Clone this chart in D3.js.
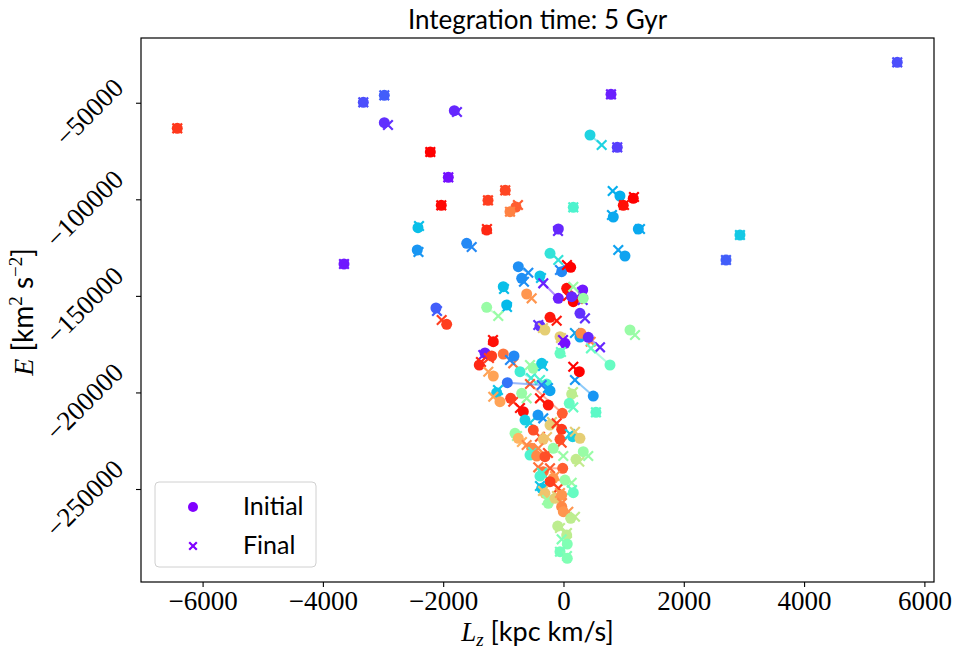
<!DOCTYPE html>
<html>
<head>
<meta charset="utf-8">
<script src="https://cdn.jsdelivr.net/npm/d3@7"></script>
<style>
  body { margin: 0; background: #fff; }
  .tick line { stroke: #000; }
</style>
</head>
<body>
<div id="chart"></div>
<script>
// Lz–E scatter: initial (circle) and final (cross) position of each orbit,
// linked by a faint line, coloured along the rainbow colour map

// colour-map position of each orbit (0 = purple ... 1 = red)
const colorValue = [
  0.93, 0.10, 0.12, 0.06, 0.05, 1.00, 0.02, 0.91, 0.92, 0.99,
  0.88, 0.83, 0.27, 0.95, 0.05, 0.04, 0.08, 0.31, 0.24, 1.00,
  0.98, 0.40, 0.23, 0.23, 0.10, 0.29, 0.12, 0.03, 0.20, 0.18,
  0.12, 0.92, 0.35, 0.18, 1.00, 0.22, 0.19, 0.19, 0.28, 0.04,
  0.27, 0.26, 0.55, 0.80, 0.98, 1.00, 0.05, 0.03, 0.55, 0.06,
  0.97, 0.06, 0.70, 0.70, 0.02, 0.45, 0.22, 0.82, 0.05, 0.45,
  0.55, 0.98, 0.04, 0.92, 0.95, 0.85, 0.78, 0.18, 0.38, 0.55,
  0.28, 0.40, 0.88, 0.15, 0.22, 0.97, 0.20, 1.00, 0.62, 0.45,
  0.43, 0.28, 0.78, 0.92, 0.55, 0.98, 0.30, 0.20, 0.70, 0.93,
  0.90, 0.55, 0.75, 0.72, 0.90, 0.30, 0.70, 0.82, 0.40, 0.82,
  0.90, 0.55, 0.55, 0.63, 0.85, 0.88, 0.40, 0.80, 0.92, 0.55,
  0.28, 0.72, 0.55, 0.70, 0.45, 0.80, 0.82, 0.80, 0.62, 0.62,
  0.62, 0.50, 0.48, 0.50
];

// initial angular momentum Lz [kpc km/s]
const initialLz = [
  -6421, -3328, -2979, -2979, -1815, -2214, -1915, -968, -1255, -2032,
  -790, -889, -2419, -1277, -86, 790, 894, 441, 939, 1160,
  994, 163, 828, 1244, 5549, 2934, 2702, -3649, -2431, -1609,
  -2120, -1942, -224, -30, 120, 1022, -751, -695, -391, -86,
  -1001, -944, -1277, -612, 53, 163, 136, 319, 329, 274,
  -224, -391, -308, -58, 25, -58, 274, 291, 412, 773,
  1106, -1167, -1305, -1194, -1400, -1001, -1167, -823, -723, -502,
  -362, -279, -20, -934, -224, -253, 495, 263, 136, 96,
  540, -1111, -1056, -878, -695, -668, -640, -424, -224, -30,
  -502, -806, -751, -336, -58, 153, 274, -529, -557, -446,
  -308, -170, 329, 208, -336, -13, -391, -170, -224, 25,
  -362, -308, -253, -141, 163, -30, -30, -3, 120, -96,
  53, 63, -58, 63
];

// initial energy E [km^2 s^-2]
const initialE = [
  -63236, -49773, -46149, -60337, -54123, -75508, -88608, -95340, -100518, -103107,
  -103987, -106421, -114706, -115896, -115378, -45631, -73074, -66706, -98291, -99482,
  -103107, -104142, -109165, -115378, -29061, -118485, -131430, -133501, -126252, -122783,
  -156285, -164725, -127961, -137489, -135210, -129359, -134900, -140906, -139715, -151262,
  -145256, -154732, -155922, -149036, -146084, -153023, -150434, -146964, -151262, -159029,
  -161100, -165605, -167676, -171145, -174563, -179741, -171300, -169385, -171456, -185799,
  -167676, -173735, -179586, -181138, -185799, -180104, -191495, -181138, -189267, -187508,
  -184919, -195638, -210809, -194965, -199107, -206511, -201853, -189267, -200816, -205631,
  -210291, -200143, -204803, -203042, -200453, -209981, -214278, -211689, -216867, -219094,
  -219456, -221165, -223754, -224272, -224272, -222926, -223754, -228932, -232401, -232919,
  -233281, -228932, -230693, -234628, -241049, -239288, -243274, -244466, -246227, -245346,
  -249644, -252233, -257411, -254822, -251922, -253115, -259172, -261761, -265178, -269165,
  -273825, -278485, -282473, -285890
];

// final angular momentum Lz after 5 Gyr
const finalLz = [
  -6421, -3328, -2979, -2918, -1771, -2214, -1915, -968, -1255, -2032,
  -757, -889, -2402, -1272, -91, 790, 894, 635, 818, 1172,
  1006, 163, 806, 1272, 5549, 2934, 2702, -3649, -2411, -1526,
  -2103, -2025, -86, -58, 58, 911, -585, -657, -374, -336,
  -989, -939, -1084, -529, 75, 241, 319, 308, 163, 357,
  -113, -419, -341, -42, -8, -42, 191, 452, 607, 457,
  1189, -1172, -1333, -1239, -1372, -835, -1250, -889, -540, -557,
  -341, -391, -557, -362, -258, -391, 191, 163, 158, 163,
  540, -1089, -1167, -835, -612, -723, -557, -336, -191, -113,
  -391, -773, -690, -274, -30, 108, 191, -612, -507, -419,
  -258, -3, 412, 263, -419, -224, -357, -141, -86, 136,
  -391, -341, -274, -108, 141, -58, -25, 80, 191, -58,
  58, -30, -58, 58
];

// final energy E after 5 Gyr
const finalE = [
  -63236, -49773, -46149, -61528, -54796, -75508, -88608, -95340, -100518, -103107,
  -102950, -106421, -113825, -115378, -116414, -45631, -73074, -71883, -95702, -98809,
  -102951, -104142, -108129, -115378, -29061, -118485, -131430, -133501, -127288, -124699,
  -157838, -162498, -131430, -136609, -134020, -126252, -138007, -142667, -140750, -143495,
  -146447, -155768, -160427, -151262, -150071, -151624, -152142, -148000, -145256, -161618,
  -162861, -165087, -166640, -171818, -172855, -179068, -169229, -173735, -176634, -177152,
  -170265, -172855, -180622, -182174, -184246, -184919, -189267, -183210, -192529, -185799,
  -186316, -193567, -195638, -196154, -197709, -203042, -193565, -186678, -199780, -207702,
  -210291, -198745, -202214, -204803, -203042, -208065, -215832, -213398, -215314, -215987,
  -222926, -222563, -225670, -223080, -226033, -221528, -220338, -227223, -230847, -228932,
  -231365, -232919, -232919, -235871, -238770, -239288, -241721, -243274, -249644, -246745,
  -248453, -251042, -255703, -253631, -250524, -252078, -257255, -261761, -264350, -270201,
  -272790, -276052, -282473, -284699
];

const xTicks = [-6000, -4000, -2000, 0, 2000, 4000, 6000];
const yTicks = [-250000, -200000, -150000, -100000, -50000];
const legendLabels = ['Initial', 'Final'];

const width = 959, height = 660;
const plot = { left: 141, right: 934, top: 38, bottom: 582 };
const sansFont = 'Lato, "Open Sans", sans-serif';
const serifFont = '"Liberation Serif", "DejaVu Serif", serif';

// matplotlib "rainbow" colour map
function rainbow(t) {
  const c = v => Math.max(0, Math.min(1, v)) * 255;
  return d3.rgb(c(Math.abs(2 * t - 0.5)), c(Math.sin(Math.PI * t)), c(Math.cos(Math.PI * t / 2))).formatHex();
}

const orbits = colorValue.map((t, i) => ({
  color: rainbow(t),
  lz0: initialLz[i], e0: initialE[i],
  lz1: finalLz[i], e1: finalE[i]
}));

const svg = d3.select('#chart').append('svg')
  .attr('width', width)
  .attr('height', height)
  .style('font-family', sansFont);

const xScale = d3.scaleLinear().domain([-7024, 6160]).range([plot.left, plot.right]);
const yScale = d3.scaleLinear().domain([-298150, -16480]).range([plot.bottom, plot.top]);

const minus = v => String(v).replace('-', '\u2212');

// axes
const xAxisGroup = svg.append('g')
  .attr('transform', `translate(0,${plot.bottom})`)
  .call(d3.axisBottom(xScale).tickValues(xTicks).tickSize(5).tickPadding(6).tickFormat(minus));

const yAxisGroup = svg.append('g')
  .attr('transform', `translate(${plot.left},0)`)
  .call(d3.axisLeft(yScale).tickValues(yTicks).tickSize(5).tickPadding(5).tickFormat(minus));

[xAxisGroup, yAxisGroup].forEach(g => {
  g.select('.domain').remove();
  g.selectAll('.tick line').attr('stroke', '#000').attr('stroke-width', 1.1);
  g.selectAll('.tick text')
    .attr('fill', '#000')
    .style('font-family', serifFont)
    .style('font-size', '27px');
});

xAxisGroup.selectAll('.tick text').attr('dy', '0.71em').attr('y', 9);

// y tick labels rotated by 45 degrees, right edge of the rotated box near the tick
yAxisGroup.selectAll('.tick text').each(function() {
  const t = d3.select(this);
  t.attr('x', 0).attr('dy', null).attr('text-anchor', 'middle').attr('dominant-baseline', 'central');
  const b = this.getBBox();
  const half = (b.width + b.height * 0.7) / (2 * Math.SQRT2);
  t.attr('transform', `translate(${-15 - half},9) rotate(-45)`);
});

// clip + marks
svg.append('clipPath').attr('id', 'clip')
  .append('rect')
  .attr('x', plot.left).attr('y', plot.top)
  .attr('width', plot.right - plot.left).attr('height', plot.bottom - plot.top);

const marks = svg.append('g').attr('clip-path', 'url(#clip)');
const crossSize = 4.8;
const crossPath = s => `M${-s},${-s}L${s},${s}M${-s},${s}L${s},${-s}`;

const groups = marks.selectAll('.orbit')
  .data(orbits)
  .join('g')
  .attr('class', 'orbit');

groups.append('line')
  .attr('x1', d => xScale(d.lz0)).attr('y1', d => yScale(d.e0))
  .attr('x2', d => xScale(d.lz1)).attr('y2', d => yScale(d.e1))
  .attr('stroke', d => d.color)
  .attr('stroke-width', 2)
  .attr('stroke-opacity', 0.5);

groups.append('circle')
  .attr('cx', d => xScale(d.lz0))
  .attr('cy', d => yScale(d.e0))
  .attr('r', 5.5)
  .attr('fill', d => d.color);

groups.append('path')
  .attr('transform', d => `translate(${xScale(d.lz1)},${yScale(d.e1)})`)
  .attr('d', crossPath(crossSize))
  .attr('stroke', d => d.color)
  .attr('stroke-width', 2.2)
  .attr('fill', 'none');

// frame
svg.append('rect')
  .attr('x', plot.left).attr('y', plot.top)
  .attr('width', plot.right - plot.left).attr('height', plot.bottom - plot.top)
  .attr('fill', 'none')
  .attr('stroke', '#000')
  .attr('stroke-width', 1.2);

// title and axis labels
svg.append('text')
  .attr('x', (plot.left + plot.right) / 2)
  .attr('y', 29)
  .attr('text-anchor', 'middle')
  .style('font-size', '26px')
  .text('Integration time: 5 Gyr');

const xLabel = svg.append('text')
  .attr('x', (plot.left + plot.right) / 2)
  .attr('y', 641)
  .attr('text-anchor', 'middle')
  .style('font-size', '27px');
xLabel.append('tspan').style('font-family', serifFont).style('font-style', 'italic').text('L');
xLabel.append('tspan').style('font-family', serifFont).style('font-style', 'italic')
  .style('font-size', '19px').attr('dy', 5).text('z');
xLabel.append('tspan').attr('dy', -5).text(' [kpc km/s]');

const yLabel = svg.append('text')
  .attr('transform', 'translate(33,312) rotate(-90)')
  .attr('text-anchor', 'middle')
  .style('font-size', '28px');
yLabel.append('tspan').style('font-family', serifFont).style('font-style', 'italic').text('E');
yLabel.append('tspan').text(' [km');
yLabel.append('tspan').style('font-family', serifFont).style('font-size', '19px').attr('dy', -11).text('2');
yLabel.append('tspan').attr('dy', 11).text(' s');
yLabel.append('tspan').style('font-family', serifFont).style('font-size', '19px').attr('dy', -11).text('\u22122');
yLabel.append('tspan').attr('dy', 11).text(']');

// legend
const legend = svg.append('g');
legend.append('rect')
  .attr('x', 155).attr('y', 482)
  .attr('width', 161).attr('height', 85)
  .attr('rx', 4)
  .attr('fill', '#fff').attr('fill-opacity', 0.8)
  .attr('stroke', '#d0d0d0');

const legendColor = rainbow(0);
legend.append('circle').attr('cx', 193).attr('cy', 507).attr('r', 5).attr('fill', legendColor);
legend.append('path')
  .attr('transform', 'translate(193,546)')
  .attr('d', crossPath(3.8))
  .attr('stroke', legendColor).attr('stroke-width', 2.2).attr('fill', 'none');

legend.selectAll('.legend-label')
  .data(legendLabels)
  .join('text')
  .attr('class', 'legend-label')
  .attr('x', 243)
  .attr('y', (d, i) => 515 + i * 39)
  .style('font-size', '25px')
  .text(d => d);
</script>
</body>
</html>
